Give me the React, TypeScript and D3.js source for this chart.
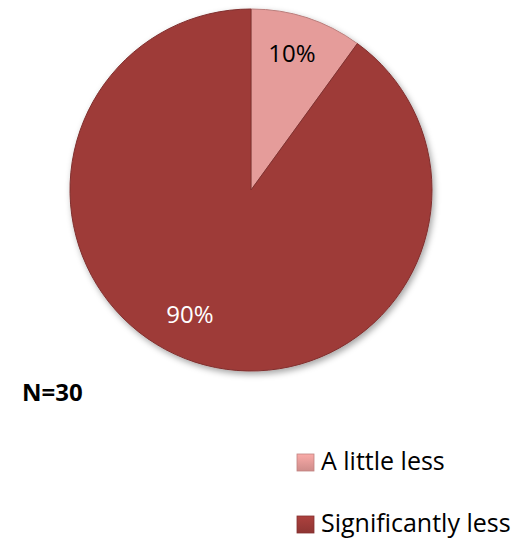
import React from "react";
import * as d3 from "d3";

const categories = ["A little less", "Significantly less"];
const values = [10, 90];
const labels = ["10%", "90%"];
const colors = ["#E59C9A", "#9E3B39"];
const labelColors = ["#000000", "#FFFFFF"];
const note = "N=30";

export default function App() {
  const W = 520, H = 539;
  const cx = 251, cy = 190, r = 181;
  const pie = d3.pie<number>().sort(null).startAngle(0).endAngle(2 * Math.PI)(values);
  const arc = d3.arc<d3.PieArcDatum<number>>().innerRadius(0).outerRadius(r);
  const legendX = 297;
  const legendY = [454, 516];
  const font = "'Open Sans', Lato, sans-serif";
  return (
    <svg width={W} height={H} style={{ position: "absolute", left: 0, top: 0, fontFamily: font }}>
      <defs>
        <filter id="sh" x="-20%" y="-20%" width="140%" height="140%">
          <feDropShadow dx="2" dy="3" stdDeviation="3" floodColor="#000" floodOpacity="0.35" />
        </filter>
        {colors.map((c, i) => (
          <linearGradient key={i} id={"lg" + i} x1="0" y1="0" x2="0" y2="1">
            <stop offset="0" stopColor={d3.color(c)!.brighter(0.25).toString()} />
            <stop offset="1" stopColor={d3.color(c)!.darker(0.3).toString()} />
          </linearGradient>
        ))}
      </defs>
      <g transform={`translate(${cx},${cy})`} filter="url(#sh)">
        {pie.map((d, i) => (
          <path key={i} d={arc(d)!} fill={colors[i]} stroke={d3.color(colors[i])!.darker(0.6).toString()} strokeWidth={1} />
        ))}
      </g>
      <g transform={`translate(${cx},${cy})`}>
        {pie.map((d, i) => {
          const [x, y] = i === 0 ? [41, -128] : [-61, 133];
          return (
            <text key={i} x={x} y={y} textAnchor="middle" fontSize={24} fill={labelColors[i]}>
              {labels[i]}
            </text>
          );
        })}
      </g>
      <text x={22} y={401} fontSize={24} fontWeight="bold" fill="#000">{note}</text>
      {categories.map((c, i) => (
        <g key={i}>
          <rect x={legendX} y={legendY[i]} width={17} height={17} fill={`url(#lg${i})`} stroke={d3.color(colors[i])!.darker(0.5).toString()} strokeWidth={0.8} />
          <text x={legendX + 24} y={legendY[i] + 16} fontSize={25} fill="#000">{c}</text>
        </g>
      ))}
    </svg>
  );
}
